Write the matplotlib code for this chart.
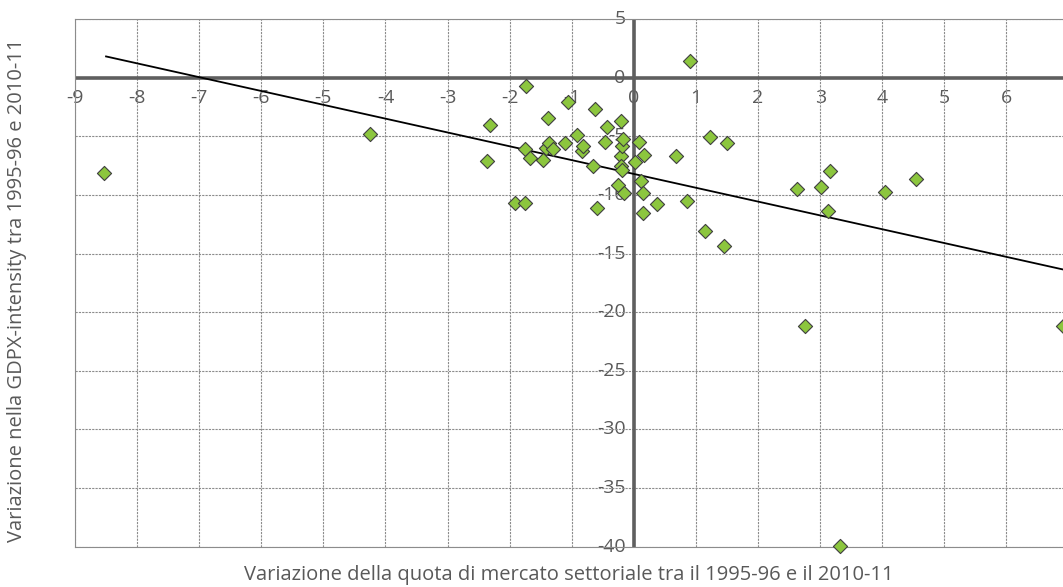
import matplotlib.pyplot as plt
import numpy as np

# variazione quota di mercato (p.p.) vs variazione GDPX-intensity
quota = [-8.53, -4.25, -2.32, -2.36, -1.74, -1.92, -1.75, -1.75, -1.68, -1.46,
         -1.39, -1.42, -1.37, -1.30, -1.11, -1.06, -0.92, -0.84, -0.82, -0.66,
         -0.62, -0.60, -0.46, -0.44, -0.25, -0.21, -0.21, -0.21, -0.19, -0.19,
         -0.18, -0.16, 0.02, 0.09, 0.11, 0.15, 0.15, 0.16, 0.38, 0.68,
         0.85, 0.91, 1.15, 1.22, 1.45, 1.50, 2.62, 2.75, 3.01, 3.12,
         3.15, 3.32, 4.04, 4.54, 6.91]
intensity = [-8.10, -4.80, -3.98, -7.09, -0.68, -10.68, -10.68, -6.04, -6.80, -6.97,
             -3.39, -5.95, -5.55, -6.05, -5.52, -2.10, -4.90, -6.26, -5.78, -7.49,
             -2.68, -11.14, -5.47, -4.19, -9.17, -3.67, -6.69, -7.49, -5.84, -7.83,
             -5.24, -9.80, -7.21, -5.50, -8.83, -9.83, -11.50, -6.55, -10.74, -6.67,
             -10.54, 1.45, -13.08, -5.08, -14.38, -5.59, -9.51, -21.20, -9.28, -11.37,
             -7.97, -39.97, -9.70, -8.59, -21.15]

# linea di tendenza
trend_slope = -1.18
trend_intercept = -8.2
trend_start = -8.5

x_ticks = list(range(-9, 7))
y_ticks = list(range(-40, 6, 5))

plt.rcParams['font.family'] = ['Open Sans', 'DejaVu Sans']
text_col = '#595959'

fig = plt.figure(figsize=(10.63, 5.87), dpi=100)
ax = fig.add_axes([75/1063, 1 - 546.5/587, 1 - 75/1063, (546.5 - 19.3)/587])
ax.set_xlim(-9, 6.91)
ax.set_ylim(-40, 5)

# griglia tratteggiata
ax.set_xticks(x_ticks)
ax.set_yticks(y_ticks)
ax.grid(True, color='#8c8c8c', linestyle=(0, (2, 1)), linewidth=0.8)
ax.tick_params(length=0, labelbottom=False, labelleft=False)
for s in ['top', 'left', 'bottom']:
    ax.spines[s].set_linestyle((0, (2, 1)))
    ax.spines[s].set_color('#8c8c8c')
    ax.spines[s].set_linewidth(0.8)
ax.spines['right'].set_visible(False)

# etichette vicino agli assi nello zero
for v in x_ticks:
    ax.annotate(str(v), (v, 0), xytext=(0, -8), textcoords='offset points',
                ha='center', va='top', fontsize=14, color=text_col, zorder=1)
for v in y_ticks:
    ax.annotate(str(v), (0, v), xytext=(-6, 0), textcoords='offset points',
                ha='right', va='center', fontsize=14, color=text_col, zorder=1)

# assi nello zero
ax.axhline(0, color='#5f5f5f', linewidth=2.6, zorder=2)
ax.axvline(0, color='#5f5f5f', linewidth=2.6, zorder=2)

# tendenza
tx = np.array([trend_start, ax.get_xlim()[1]])
ax.plot(tx, trend_slope * tx + trend_intercept, color='black', linewidth=1.3, zorder=3)

ax.scatter(quota, intensity, marker='D', s=52, color='#8cc63e',
           edgecolor='#3f3f3f', linewidth=0.8, zorder=4, clip_on=False)

fig.text(17/1063, 1 - 290/587, 'Variazione nella GDPX-intensity tra 1995-96 e 2010-11',
         rotation=90, ha='center', va='center', fontsize=14.5, color=text_col)
fig.text(569/1063, 1 - 575/587,
         'Variazione della quota di mercato settoriale tra il 1995-96 e il 2010-11',
         ha='center', va='center', fontsize=14.5, color=text_col)

fig.savefig('out.png', dpi=100)
